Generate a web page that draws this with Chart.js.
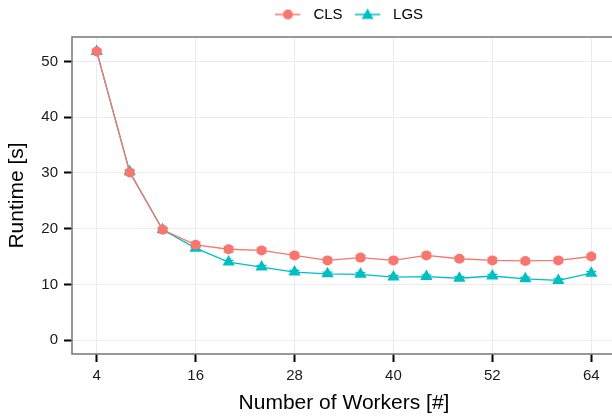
<!DOCTYPE html>
<html>
<head>
<meta charset="utf-8">
<script src="https://cdn.jsdelivr.net/npm/chart.js@4/dist/chart.umd.min.js"></script>
<style>
html,body{margin:0;padding:0;background:#fff;overflow:hidden;}
#wrap{width:616px;height:419px;}
</style>
</head>
<body>
<div id="wrap"><canvas id="c" width="616" height="419"></canvas></div>
<script>
const workers = [4, 8, 12, 16, 20, 24, 28, 32, 36, 40, 44, 48, 52, 56, 60, 64];
const clsRuntime = [51.8, 30.1, 19.8, 17.1, 16.3, 16.1, 15.2, 14.3, 14.8, 14.3, 15.2, 14.6, 14.3, 14.2, 14.3, 15.0];
const lgsRuntime = [51.8, 30.2, 19.8, 16.5, 14.0, 13.1, 12.2, 11.9, 11.8, 11.3, 11.4, 11.1, 11.5, 11.0, 10.7, 12.0];
const clsError = [0.4, 0.4, 0.4, 0.5, 0.5, 0.4, 0.4, 0.4, 0.4, 0.4, 0.4, 0.4, 0.4, 0.4, 0.4, 0.4];
const lgsError = [0.3, 0.3, 0.3, 0.3, 0.3, 0.3, 0.3, 0.3, 0.3, 0.3, 0.3, 0.3, 0.3, 0.3, 0.3, 0.3];
const xTicks = [4, 16, 28, 40, 52, 64];
const yTicks = [0, 10, 20, 30, 40, 50];
const seriesNames = ['CLS', 'LGS'];
const colCLS = '#F8766D';
const colLGS = '#00BFC4';

function legendIcon(color, style) {
  const c = document.createElement('canvas');
  c.width = 30; c.height = 14;
  const g = c.getContext('2d');
  g.strokeStyle = color; g.lineWidth = 1.5;
  g.beginPath(); g.moveTo(0, 7); g.lineTo(25, 7); g.stroke();
  g.fillStyle = color;
  g.beginPath();
  if (style === 'circle') {
    g.arc(12.5, 7, 5, 0, Math.PI * 2);
  } else {
    g.moveTo(12.5, 1); g.lineTo(18.5, 11.5); g.lineTo(6.5, 11.5); g.closePath();
  }
  g.fill();
  return c;
}
const icons = [legendIcon(colCLS, 'circle'), legendIcon(colLGS, 'triangle')];

const errorBars = {
  id: 'errorBars',
  beforeDatasetsDraw(chart) {
    const ctx = chart.ctx;
    const xs = chart.scales.x, ys = chart.scales.y;
    const sets = [[lgsRuntime, lgsError, colLGS], [clsRuntime, clsError, colCLS]];
    ctx.save();
    ctx.lineWidth = 1.2;
    sets.forEach(([vals, errs, col]) => {
      ctx.strokeStyle = col;
      vals.forEach((v, i) => {
        const px = xs.getPixelForValue(workers[i]);
        const y1 = ys.getPixelForValue(v - errs[i]);
        const y2 = ys.getPixelForValue(v + errs[i]);
        ctx.beginPath();
        ctx.moveTo(px, y1); ctx.lineTo(px, y2);
        ctx.moveTo(px - 5, y1); ctx.lineTo(px + 5, y1);
        ctx.moveTo(px - 5, y2); ctx.lineTo(px + 5, y2);
        ctx.stroke();
      });
    });
    ctx.restore();
  }
};

const panelBorder = {
  id: 'panelBorder',
  afterDraw(chart) {
    const a = chart.chartArea, ctx = chart.ctx;
    ctx.save();
    ctx.strokeStyle = '#7F7F7F';
    ctx.lineWidth = 1.6;
    ctx.strokeRect(a.left, a.top, a.right - a.left, a.bottom - a.top);
    ctx.restore();
  }
};

const legendShift = {
  id: 'legendShift',
  afterLayout(chart) {
    const lg = chart.legend;
    if (lg) {
      lg.left += 5; lg.right += 5;
      lg.top -= 5; lg.bottom -= 5;
    }
  }
};

const font = '"Liberation Sans", Arial, Helvetica, sans-serif';

new Chart(document.getElementById('c'), {
  type: 'line',
  data: {
    datasets: [
      {
        label: seriesNames[0],
        data: workers.map((w, i) => ({x: w, y: clsRuntime[i]})),
        borderColor: colCLS, backgroundColor: colCLS,
        borderWidth: 1.3, pointStyle: 'circle', pointRadius: 5,
        pointBorderWidth: 0, tension: 0
      },
      {
        label: seriesNames[1],
        data: workers.map((w, i) => ({x: w, y: lgsRuntime[i]})),
        borderColor: colLGS, backgroundColor: colLGS,
        borderWidth: 1.3, pointStyle: 'triangle', pointRadius: 7,
        pointBorderWidth: 0, tension: 0
      }
    ]
  },
  options: {
    responsive: false,
    animation: false,
    layout: {autoPadding: false, padding: {top: 0, right: 0, left: 0, bottom: 0}},
    plugins: {
      tooltip: {enabled: false},
      legend: {
        position: 'top',
        fullSize: false,
        labels: {
          usePointStyle: true,
          pointStyleWidth: 31,
          padding: 12,
          color: '#000',
          font: {family: font, size: 15},
          generateLabels(chart) {
            return chart.data.datasets.map((d, i) => ({
              text: d.label, pointStyle: icons[i], fillStyle: d.borderColor,
              strokeStyle: d.borderColor, lineWidth: 0, hidden: false, datasetIndex: i, fontColor: '#000'
            }));
          }
        }
      }
    },
    scales: {
      x: {
        type: 'linear', min: 1, max: 67,
        afterBuildTicks(s) { s.ticks = xTicks.map(v => ({value: v})); },
        afterFit(s) { s.height = 65; s.paddingLeft = 0; s.paddingRight = 0; },
        grid: {color: '#EBEBEB', lineWidth: 1, tickLength: 8, tickColor: '#000', tickWidth: 2},
        border: {display: false},
        ticks: {color: '#1a1a1a', font: {family: font, size: 15}, padding: 5, maxRotation: 0},
        title: {display: true, text: 'Number of Workers [#]', color: '#000', font: {family: font, size: 21}, padding: {top: 2, bottom: 3}}
      },
      y: {
        type: 'linear', min: -2.5, max: 54.4,
        afterBuildTicks(s) { s.ticks = yTicks.map(v => ({value: v})); },
        afterFit(s) { s.width = 72; s.paddingTop = 37; s.paddingBottom = 0; },
        grid: {color: '#EBEBEB', lineWidth: 1, tickLength: 8, tickColor: '#000', tickWidth: 2},
        border: {display: false},
        ticks: {color: '#1a1a1a', font: {family: font, size: 15}, padding: 6},
        title: {display: true, text: 'Runtime [s]', color: '#000', font: {family: font, size: 21}, padding: {top: 5, bottom: 4}}
      }
    }
  },
  plugins: [errorBars, panelBorder, legendShift]
});
</script>
</body>
</html>
